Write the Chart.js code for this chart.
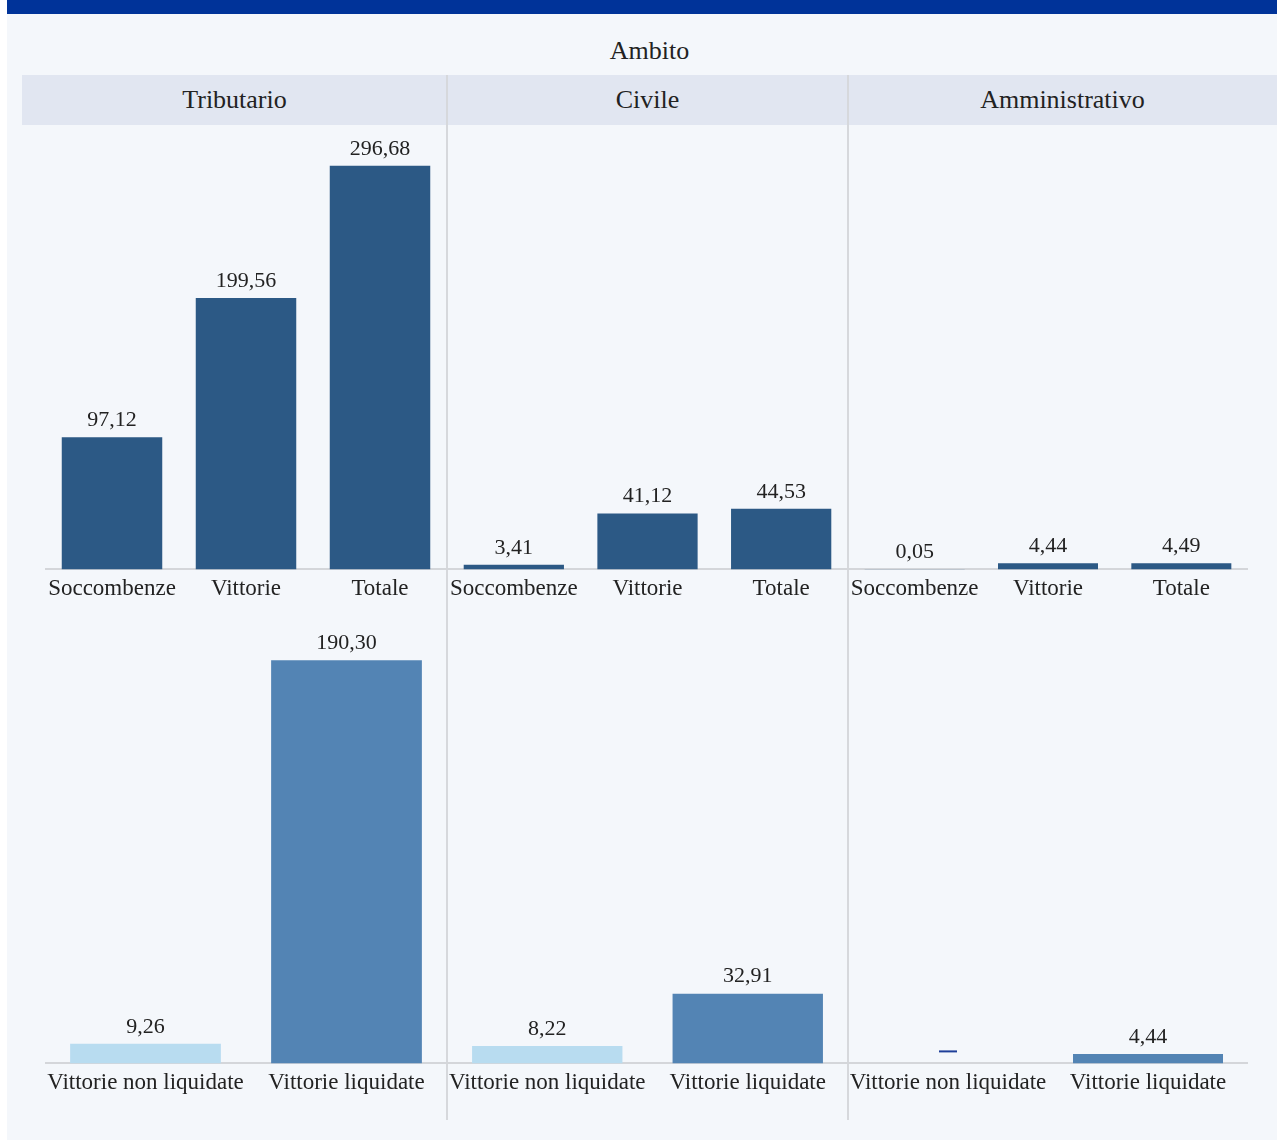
<!DOCTYPE html>
<html>
<head>
<meta charset="utf-8">
<script src="https://cdn.jsdelivr.net/npm/chart.js@4/dist/chart.umd.min.js"></script>
<style>
  html, body { margin: 0; padding: 0; background: #ffffff; width: 1277px; height: 1142px; overflow: hidden; }
  #frame { position: absolute; left: 7px; top: 0; width: 1270px; height: 1140px; background: #f4f7fb; }
  #topbar { position: absolute; left: 7px; top: 0; width: 1270px; height: 14px; background: #003399; }
  .txt { position: absolute; font-family: "Liberation Serif", "DejaVu Serif", serif; color: #222; text-align: center; }
  #title { left: 22px; width: 1255px; top: 36px; font-size: 26px; line-height: 30px; }
  #hdr { position: absolute; left: 22px; top: 75px; width: 1255px; height: 50px; background: #e1e6f1; }
  .hcell { top: 75px; height: 50px; line-height: 50px; font-size: 26px; }
  .sep { position: absolute; width: 2px; background: #d6d8dc; }
  canvas { position: absolute; }
</style>
</head>
<body>
<div id="frame"></div>
<div id="topbar"></div>
<div id="title" class="txt"></div>
<div id="hdr"></div>
<div id="h0" class="txt hcell" style="left:22px;width:425px;"></div>
<div id="h1" class="txt hcell" style="left:447px;width:401px;"></div>
<div id="h2" class="txt hcell" style="left:848px;width:429px;"></div>
<div class="sep" style="left:446px;top:75px;height:1045px;"></div>
<div class="sep" style="left:847px;top:75px;height:1045px;"></div>

<canvas id="t0"></canvas><canvas id="t1"></canvas><canvas id="t2"></canvas>
<canvas id="b0"></canvas><canvas id="b1"></canvas><canvas id="b2"></canvas>

<script>
// ---- DATA ----
const titleText = 'Ambito';
const panelNames = ['Tributario', 'Civile', 'Amministrativo'];

const topCategories = ['Soccombenze', 'Vittorie', 'Totale'];
const topTributario = [97.12, 199.56, 296.68];
const topCivile = [3.41, 41.12, 44.53];
const topAmministrativo = [0.05, 4.44, 4.49];

const bottomCategories = ['Vittorie non liquidate', 'Vittorie liquidate'];
const bottomTributario = [9.26, 190.30];
const bottomCivile = [8.22, 32.91];
const bottomAmministrativo = [null, 4.44];

// ---- STYLE ----
const FONT = '"Liberation Serif", "DejaVu Serif", serif';
const topColor = '#2c5985';
const bottomColors = ['#b8dcf0', '#5384b4'];
const nullDashColor = '#1f3f99';

document.getElementById('title').textContent = titleText;
panelNames.forEach((n, i) => document.getElementById('h' + i).textContent = n);

const fmt = v => v.toFixed(2).replace('.', ',');

const valueLabels = {
  id: 'valueLabels',
  afterDatasetsDraw(chart) {
    const ctx = chart.ctx;
    const meta = chart.getDatasetMeta(0);
    const data = chart.data.datasets[0].data;
    const y0 = chart.scales.y.getPixelForValue(0);
    ctx.save();
    ctx.font = '22px ' + FONT;
    ctx.fillStyle = '#222';
    ctx.textAlign = 'center';
    ctx.textBaseline = 'bottom';
    meta.data.forEach((bar, i) => {
      const x = chart.scales.x.getPixelForValue(i);
      if (data[i] === null || data[i] === undefined) {
        ctx.strokeStyle = nullDashColor;
        ctx.lineWidth = 2;
        ctx.beginPath();
        ctx.moveTo(x - 9, y0 - 12);
        ctx.lineTo(x + 9, y0 - 12);
        ctx.stroke();
        return;
      }
      ctx.fillText(fmt(data[i]), x, bar.y - 6);
    });
    ctx.restore();
  }
};

function makeChart(id, box, labels, values, colors, yMax) {
  const c = document.getElementById(id);
  c.style.left = box.x + 'px';
  c.style.top = box.y + 'px';
  c.width = box.w; c.height = box.h;
  c.style.width = box.w + 'px'; c.style.height = box.h + 'px';
  return new Chart(c, {
    type: 'bar',
    data: {
      labels: labels,
      datasets: [{ data: values, backgroundColor: colors, borderWidth: 0,
                   barPercentage: 0.75, categoryPercentage: 1.0 }]
    },
    options: {
      responsive: false,
      animation: false,
      layout: { padding: 0 },
      plugins: { legend: { display: false }, tooltip: { enabled: false } },
      scales: {
        x: {
          grid: { display: false, drawTicks: false },
          border: { display: true, color: '#d4d6da', width: 2 },
          ticks: { font: { family: FONT, size: 23 }, color: '#222', padding: 6,
                   maxRotation: 0, autoSkip: false },
          afterFit(scale) { scale.paddingLeft = 0; scale.paddingRight = 0; }
        },
        y: { display: false, min: 0, max: yMax }
      }
    },
    plugins: [valueLabels]
  });
}

const cols = [{ x: 45, w: 402 }, { x: 447, w: 401 }, { x: 848, w: 400 }];
const topY = 130, topH = 479;
const botY = 625, botH = 478;

makeChart('t0', { x: cols[0].x, y: topY, w: cols[0].w, h: topH }, topCategories, topTributario, topColor, 323);
makeChart('t1', { x: cols[1].x, y: topY, w: cols[1].w, h: topH }, topCategories, topCivile, topColor, 323);
makeChart('t2', { x: cols[2].x, y: topY, w: cols[2].w, h: topH }, topCategories, topAmministrativo, topColor, 323);

makeChart('b0', { x: cols[0].x, y: botY, w: cols[0].w, h: botH }, bottomCategories, bottomTributario, bottomColors, 207);
makeChart('b1', { x: cols[1].x, y: botY, w: cols[1].w, h: botH }, bottomCategories, bottomCivile, bottomColors, 207);
makeChart('b2', { x: cols[2].x, y: botY, w: cols[2].w, h: botH }, bottomCategories, bottomAmministrativo, bottomColors, 207);
</script>
</body>
</html>
